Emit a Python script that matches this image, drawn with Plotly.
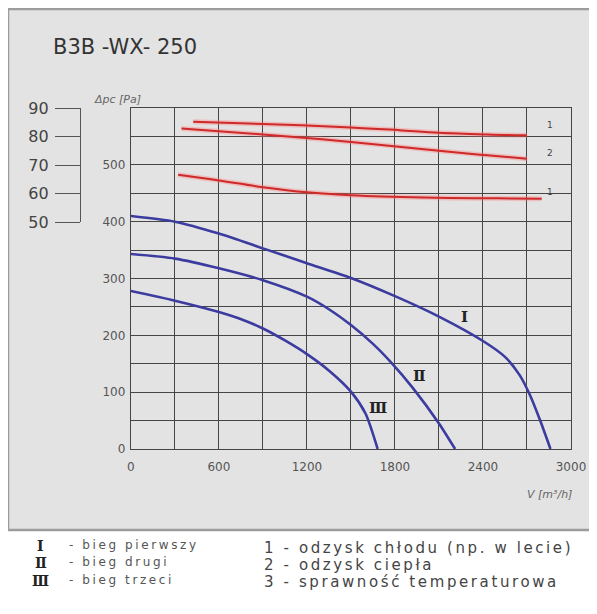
import plotly.graph_objects as go

# ---- data ----
# fan curves: airflow V [m3/h] vs available pressure dpc [Pa]
speed_I_v = [0, 300, 600, 900, 1200, 1500, 1800, 2100, 2400, 2550, 2650, 2720, 2790, 2860]
speed_I_p = [410, 400, 379, 353, 327, 301, 269, 233, 190, 162, 130, 95, 50, 0]
speed_II_v = [0, 300, 600, 900, 1200, 1355, 1500, 1650, 1775, 1920, 2100, 2210]
speed_II_p = [343, 335, 318, 297, 268, 245, 218, 185, 152, 108, 45, 0]
speed_III_v = [0, 300, 600, 765, 900, 1050, 1200, 1355, 1500, 1600, 1682]
speed_III_p = [278, 261, 241, 227, 212, 191, 167, 137, 101, 62, 0]

# efficiency curves [%]
eff1_v = [425, 900, 1500, 1830, 2100, 2430, 2700]
eff1_p = [85.2, 84.4, 83.2, 82.2, 81.3, 80.7, 80.4]
eff2_v = [345, 900, 1500, 2100, 2430, 2700]
eff2_p = [82.8, 80.7, 78.1, 75.0, 73.4, 72.2]
eff3_v = [322, 600, 900, 1200, 1500, 2000, 2500, 2800]
eff3_p = [66.6, 64.6, 62.2, 60.4, 59.4, 58.6, 58.3, 58.2]

x_ticks = [0, 600, 1200, 1800, 2400, 3000]
y_ticks = [0, 100, 200, 300, 400, 500]
eff_ticks = [50, 60, 70, 80, 90]

speed_labels = ["Ⅰ", "Ⅱ", "Ⅲ"]
speed_label_pos = [(2275, 232), (1968, 129), (1684, 73)]
eff_labels = ["1", "2", "1"]
eff_label_pos = [(2854, 81.6), (2854, 71.6), (2854, 58.2)]

legend_left = ["- bieg pierwszy", "- bieg drugi", "- bieg trzeci"]
legend_right = ["1 - odzysk chłodu (np. w lecie)", "2 - odzysk ciepła",
                "3 - sprawność temperaturowa"]

# ---- figure ----
OFF = 8  # page body margin
W, H = 597 - OFF, 614 - OFF
# plot area in window pixels: x 131..571.5, y 108..449 ; paper left at window x=20
ML = 20 - OFF
MR = W - (571.5 - OFF)
MT = 108 - OFF
MB = H - (449 - OFF)
PW = W - ML - MR
PH = H - MT - MB


def px(xp):  # window pixel x -> paper
    return (xp - OFF - ML) / PW


def py(yp):  # window pixel y -> paper
    return (449 - yp) / PH


BLUE = "#3c3ca0"
RED = "#cf2a2a"
GRID = "#454545"
FONT = "DejaVu Sans"

fig = go.Figure()

for v, p in [(speed_I_v, speed_I_p), (speed_II_v, speed_II_p), (speed_III_v, speed_III_p)]:
    fig.add_trace(go.Scatter(x=v, y=p, mode="lines", xaxis="x", yaxis="y",
                             line=dict(color=BLUE, width=2.6, shape="spline", smoothing=0.7),
                             hoverinfo="skip", showlegend=False))

for v, p in [(eff1_v, eff1_p), (eff2_v, eff2_p), (eff3_v, eff3_p)]:
    fig.add_trace(go.Scatter(x=v, y=p, mode="lines", xaxis="x", yaxis="y2",
                             line=dict(color="rgba(255,120,120,0.35)", width=5, shape="spline"),
                             hoverinfo="skip", showlegend=False))
    fig.add_trace(go.Scatter(x=v, y=p, mode="lines", xaxis="x", yaxis="y2",
                             line=dict(color=RED, width=2, shape="spline"),
                             hoverinfo="skip", showlegend=False))

fig.update_layout(
    width=W, height=H,
    margin=dict(l=ML, r=MR, t=MT, b=MB, pad=0, autoexpand=False),
    paper_bgcolor="white",
    plot_bgcolor="rgba(0,0,0,0)",
    showlegend=False,
    xaxis=dict(domain=[px(131), 1], range=[0, 3000], anchor="y",
               tickvals=x_ticks, ticktext=[str(t) for t in x_ticks],
               showgrid=True, gridcolor=GRID, gridwidth=1.4,
               minor=dict(dtick=300, showgrid=True, gridcolor=GRID, gridwidth=1.4),
               showline=True, mirror=True, linecolor=GRID, linewidth=1.4,
               zeroline=False, ticks="", ticklabelstandoff=6,
               tickfont=dict(family=FONT, size=12, color="#555")),
    yaxis=dict(domain=[0, 1], range=[0, 600], anchor="x",
               tickvals=y_ticks, ticktext=[str(t) for t in y_ticks],
               showgrid=True, gridcolor=GRID, gridwidth=1.4,
               minor=dict(dtick=50, showgrid=True, gridcolor=GRID, gridwidth=1.4),
               showline=True, mirror=True, linecolor=GRID, linewidth=1.4,
               zeroline=False, ticks="", ticklabelstandoff=2,
               tickfont=dict(family=FONT, size=12, color="#555")),
    yaxis2=dict(domain=[py(222), 1], range=[50, 90], anchor="free",
                position=px(80), side="left",
                tickvals=eff_ticks, ticktext=[str(t) for t in eff_ticks],
                ticks="outside", ticklen=25, tickwidth=1.2, tickcolor="#555",
                showline=True, linecolor="#555", linewidth=1.2,
                showgrid=False, zeroline=False, ticklabelstandoff=3,
                tickfont=dict(family=FONT, size=16, color="#444")),
)

# panel background
fig.add_shape(type="rect", xref="paper", yref="paper",
              x0=px(8), x1=px(615), y0=py(530), y1=py(9),
              fillcolor="#e3e3e3", line=dict(color="#9c9c9c", width=2.5), layer="below")

ann = []
ann.append(dict(text="B3B -WX- 250", xref="paper", yref="paper", x=px(51), y=py(47),
                xanchor="left", yanchor="middle", showarrow=False,
                font=dict(family=FONT, size=21, color="#333")))
ann.append(dict(text="<i>Δpc [Pa]</i>", xref="paper", yref="paper", x=px(118), y=py(99),
                xanchor="center", yanchor="middle", showarrow=False,
                font=dict(family=FONT, size=11, color="#666")))
ann.append(dict(text="<i>V [m³/h]</i>", xref="paper", yref="paper", x=px(550), y=py(495),
                xanchor="center", yanchor="middle", showarrow=False,
                font=dict(family=FONT, size=11, color="#666")))

for lab, (xv, yv) in zip(speed_labels, speed_label_pos):
    ann.append(dict(text="<b>" + lab + "</b>", x=xv, y=yv, xref="x", yref="y",
                    showarrow=False, xanchor="center", yanchor="middle",
                    font=dict(family="DejaVu Serif", size=15, color="#222")))
for lab, (xv, yv) in zip(eff_labels, eff_label_pos):
    ann.append(dict(text=lab, x=xv, y=yv, xref="x", yref="y2",
                    showarrow=False, xanchor="center", yanchor="bottom",
                    font=dict(family=FONT, size=9, color="#444")))

left_rows = [546, 563, 581]
for lab, txt, yr in zip(speed_labels, legend_left, left_rows):
    ann.append(dict(text="<b>" + lab + "</b>", xref="paper", yref="paper", x=px(41), y=py(yr),
                    xanchor="center", yanchor="middle", showarrow=False,
                    font=dict(family="DejaVu Serif", size=14, color="#222")))
    ann.append(dict(text='<span style="letter-spacing:2.6px">' + txt + '</span>',
                    xref="paper", yref="paper", x=px(67), y=py(yr - 1),
                    xanchor="left", yanchor="middle", showarrow=False,
                    font=dict(family=FONT, size=12, color="#555")))

right_rows = [548, 565, 582]
for txt, yr in zip(legend_right, right_rows):
    ann.append(dict(text='<span style="letter-spacing:2.6px">' + txt + '</span>',
                    xref="paper", yref="paper", x=px(262), y=py(yr),
                    xanchor="left", yanchor="middle", showarrow=False,
                    font=dict(family=FONT, size=15, color="#444")))

fig.update_layout(annotations=ann)
fig.write_html("out.html")
